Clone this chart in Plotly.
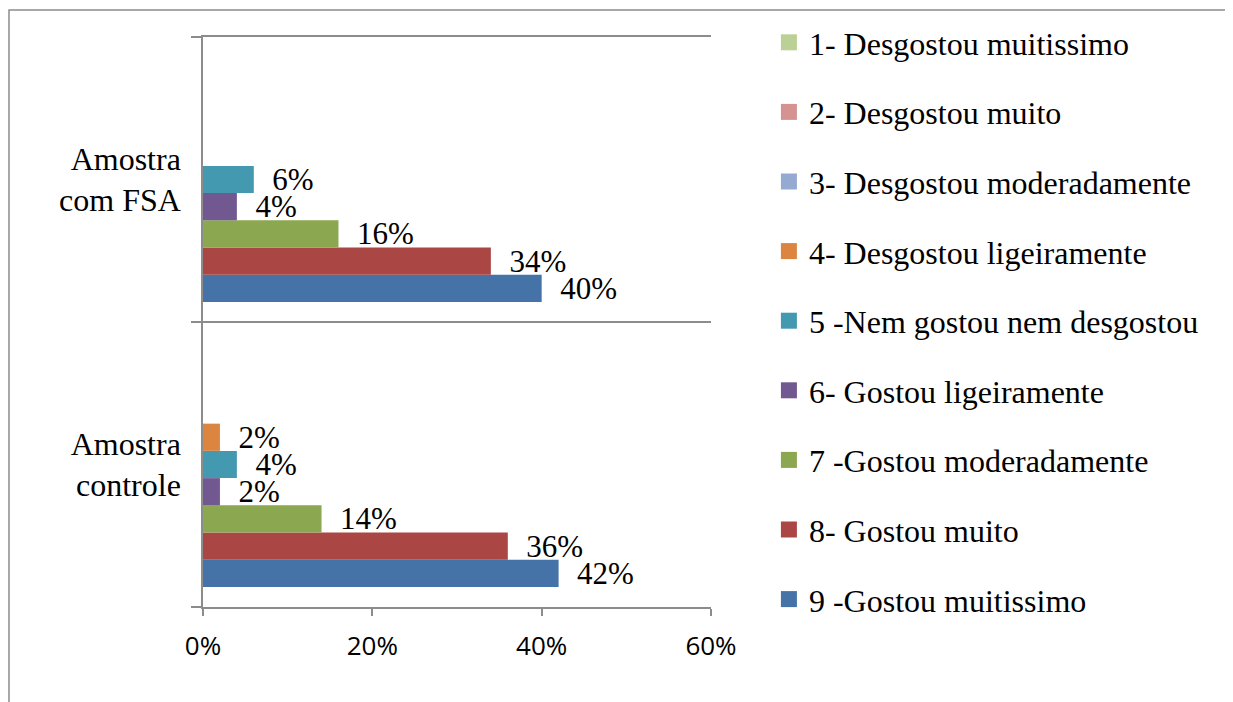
import plotly.graph_objects as go

categories = ["Amostra controle", "Amostra com FSA"]
category_labels = ["Amostra<br>controle", "Amostra<br>com FSA"]
series_names = [
    "1- Desgostou muitissimo",
    "2- Desgostou muito",
    "3- Desgostou moderadamente",
    "4- Desgostou ligeiramente",
    "5 -Nem gostou nem desgostou",
    "6- Gostou ligeiramente",
    "7 -Gostou moderadamente",
    "8- Gostou muito",
    "9 -Gostou muitissimo",
]
# values in % : [Amostra controle, Amostra com FSA]
s1 = [0, 0]
s2 = [0, 0]
s3 = [0, 0]
s4 = [2, 0]
s5 = [4, 6]
s6 = [2, 4]
s7 = [14, 16]
s8 = [36, 34]
s9 = [42, 40]
series_values = [s1, s2, s3, s4, s5, s6, s7, s8, s9]
colors = ["#BBD095", "#D49391", "#95AAD0", "#DB8540", "#4399B0",
          "#725891", "#8BA750", "#AA4744", "#4572A7"]

x_ticks = [0, 20, 40, 60]
x_tick_labels = ["0%", "20%", "40%", "60%"]

serif = "Liberation Serif, Times New Roman, serif"

fig = go.Figure()
# bars: add in reverse so that series 9 is at the bottom of each group
for i in reversed(range(9)):
    vals = series_values[i]
    labels = ["\u00a0\u00a0%d%%" % v if v > 0 else "" for v in vals]
    fig.add_trace(go.Bar(
        y=categories, x=vals, orientation="h", name=series_names[i],
        showlegend=False,
        marker=dict(color=colors[i], line=dict(width=0)),
        text=labels, textposition="outside", constraintext="none",
        cliponaxis=False,
        textfont=dict(family=serif, size=31, color="black"),
    ))

# legend entries (square swatches), series 1 at top
for i in range(9):
    fig.add_trace(go.Scatter(
        x=[None], y=[None], mode="markers", name=series_names[i],
        legendgroup=series_names[i],
        marker=dict(symbol="square", size=16, color=colors[i]),
    ))

fig.update_layout(
    width=1225, height=694,
    margin=dict(l=195, r=522, t=29, b=95, autoexpand=False),
    paper_bgcolor="white", plot_bgcolor="white",
    barmode="group", bargap=0.14, bargroupgap=0,
    showlegend=True,
    legend=dict(
        xref="paper", x=1.114, xanchor="left",
        yref="container", y=1 - 7 / 694, yanchor="top",
        traceorder="grouped", tracegroupgap=25, maxheight=690,
        font=dict(family=serif, size=32, color="black"),
        bgcolor="rgba(0,0,0,0)",
    ),
    xaxis=dict(
        range=[0, 60], tickvals=x_ticks, ticktext=x_tick_labels,
        showgrid=False, zeroline=False,
        showline=True, mirror=True, linecolor="#8C8C8C", linewidth=1.5,
        ticks="outside", ticklen=7, tickwidth=1.5, tickcolor="#8C8C8C",
        tickfont=dict(family="Open Sans", size=26, color="black"),
        ticklabelstandoff=8,
    ),
    yaxis=dict(
        categoryorder="array", categoryarray=categories,
        range=[-0.5, 1.5], tickson="boundaries",
        showgrid=True, gridcolor="#8C8C8C", gridwidth=1.5,
        showline=True, linecolor="#8C8C8C", linewidth=1.5,
        ticks="outside", ticklen=10, tickwidth=1.5, tickcolor="#8C8C8C",
        tickfont=dict(family=serif, size=32, color="black"),
        tickvals=categories, ticktext=category_labels,
        ticklabelstandoff=14,
        zeroline=False,
    ),
    shapes=[dict(type="rect", xref="paper", yref="paper",
                 x0=-194 / 508, x1=1100 / 508,
                 y0=-200 / 570, y1=(570 + 27) / 570,
                 line=dict(color="#8C8C8C", width=1.5), layer="below")],
)

fig.write_html("out.html")
